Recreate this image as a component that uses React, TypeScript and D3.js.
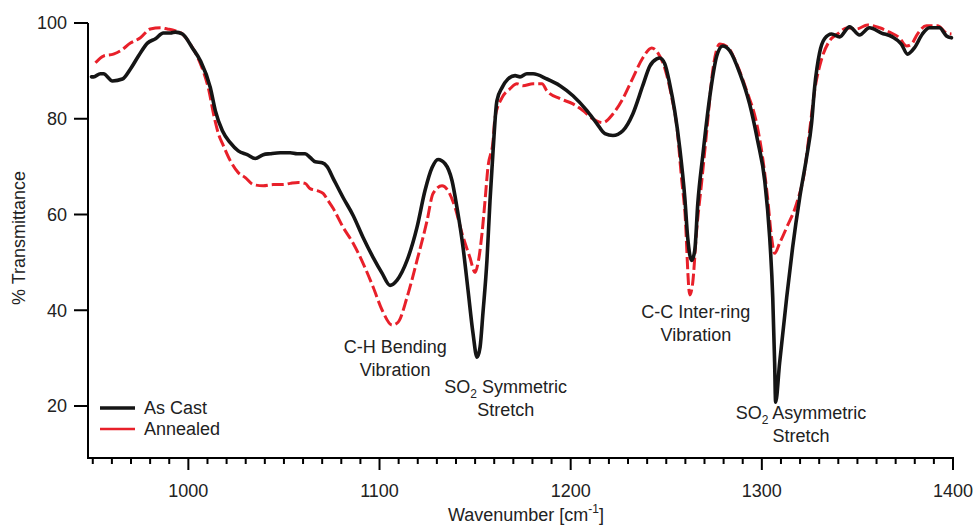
import React from "react";
import * as d3 from "d3";

const asCastWn = [949.3, 950.4, 954.0, 955.6, 960.3, 965.5, 969.7, 973.9, 978.6, 982.8, 986.9, 990.6, 993.2, 996.9, 1002.1, 1006.3, 1011.5, 1014.1, 1017.8, 1021.9, 1026.1, 1030.8, 1035.0, 1039.2, 1042.8, 1048.1, 1053.3, 1056.9, 1061.1, 1063.7, 1066.4, 1070.0, 1072.6, 1075.8, 1081.0, 1086.2, 1091.4, 1096.7, 1101.4, 1105.5, 1109.2, 1114.4, 1119.6, 1123.8, 1127.5, 1130.6, 1134.3, 1137.9, 1140.5, 1143.7, 1146.3, 1148.9, 1151.0, 1152.6, 1154.1, 1156.2, 1157.8, 1159.4, 1161.4, 1164.1, 1167.2, 1170.9, 1173.5, 1177.1, 1180.3, 1187.6, 1194.4, 1201.2, 1208.5, 1213.7, 1217.9, 1222.1, 1227.3, 1232.5, 1237.7, 1241.4, 1245.0, 1246.6, 1249.2, 1251.8, 1254.4, 1257.1, 1259.7, 1261.2, 1263.3, 1264.9, 1266.5, 1269.1, 1272.7, 1276.4, 1279.5, 1283.2, 1288.4, 1293.6, 1297.8, 1301.5, 1304.1, 1305.7, 1306.7, 1307.2, 1309.3, 1313.0, 1316.1, 1319.8, 1323.4, 1326.0, 1327.6, 1330.2, 1332.8, 1336.5, 1340.7, 1345.9, 1351.1, 1356.3, 1362.6, 1368.3, 1373.0, 1376.2, 1379.8, 1384.0, 1387.7, 1392.9, 1396.6, 1399.2];
const asCastT = [88.75, 88.75, 89.4, 89.4, 87.9, 88.3, 90.4, 93.1, 95.8, 96.7, 97.9, 97.9, 98.1, 97.7, 94.8, 92.1, 86.5, 81.7, 77.5, 75.0, 73.3, 72.5, 71.7, 72.5, 72.7, 72.9, 72.9, 72.7, 72.7, 71.9, 71.0, 70.8, 70.0, 67.5, 63.5, 59.8, 55.2, 51.0, 47.7, 45.2, 46.3, 50.4, 57.3, 65.0, 69.8, 71.5, 70.6, 67.1, 61.5, 53.1, 44.2, 35.2, 30.2, 32.3, 39.4, 50.4, 62.9, 73.3, 83.75, 86.5, 88.3, 89.0, 88.75, 89.4, 89.4, 88.3, 86.9, 84.8, 81.7, 79.0, 76.9, 76.5, 77.5, 81.0, 86.9, 91.0, 92.5, 92.7, 91.5, 87.3, 81.7, 73.75, 63.5, 55.2, 50.4, 52.5, 62.3, 72.3, 84.4, 93.1, 95.2, 94.2, 89.6, 83.1, 75.4, 67.1, 55.2, 42.7, 29.0, 20.8, 29.0, 42.7, 53.1, 63.5, 71.9, 79.0, 86.5, 93.75, 96.7, 97.7, 97.1, 99.2, 97.5, 99.0, 97.9, 97.1, 95.6, 93.5, 94.8, 97.7, 99.0, 99.0, 97.3, 96.9];

const annealedWn = [951.4, 955.6, 960.8, 964.5, 969.7, 974.9, 980.1, 985.4, 989.0, 992.2, 996.9, 1001.0, 1006.3, 1010.4, 1013.6, 1015.7, 1018.3, 1021.9, 1026.1, 1029.8, 1034.0, 1039.2, 1044.4, 1049.6, 1053.3, 1057.5, 1061.1, 1063.7, 1067.4, 1070.5, 1073.1, 1075.8, 1081.0, 1086.2, 1091.4, 1096.7, 1101.4, 1106.6, 1109.7, 1114.4, 1119.6, 1124.9, 1128.0, 1132.7, 1135.8, 1139.5, 1143.2, 1147.3, 1150.0, 1151.5, 1153.6, 1155.2, 1156.7, 1159.4, 1160.4, 1164.1, 1168.2, 1171.9, 1175.0, 1180.3, 1185.0, 1187.6, 1194.4, 1201.2, 1206.4, 1211.6, 1216.8, 1222.1, 1227.3, 1232.5, 1237.7, 1242.4, 1245.6, 1249.2, 1252.9, 1255.5, 1258.1, 1259.7, 1262.3, 1263.8, 1265.9, 1268.6, 1271.2, 1274.3, 1278.0, 1282.1, 1286.8, 1292.1, 1297.3, 1300.4, 1303.0, 1305.1, 1306.7, 1309.3, 1313.0, 1318.2, 1322.4, 1325.0, 1327.6, 1331.3, 1335.4, 1339.6, 1344.8, 1349.5, 1355.3, 1361.6, 1366.8, 1372.0, 1375.7, 1378.3, 1381.4, 1386.1, 1391.9, 1396.6, 1399.2];
const annealedT = [91.7, 93.1, 93.5, 94.2, 95.8, 96.9, 98.75, 99.0, 98.75, 98.5, 97.7, 95.6, 91.5, 86.5, 80.2, 76.9, 74.4, 71.25, 68.75, 67.7, 66.25, 66.0, 66.25, 66.25, 66.5, 66.7, 66.5, 65.4, 65.0, 64.4, 62.9, 61.25, 57.3, 54.0, 49.8, 44.8, 40.0, 36.9, 37.5, 42.7, 50.4, 58.75, 64.4, 66.0, 65.0, 61.5, 56.0, 51.0, 47.9, 49.8, 56.0, 62.9, 69.8, 75.4, 80.2, 84.4, 86.25, 87.3, 86.9, 87.3, 87.3, 85.8, 84.2, 83.1, 81.7, 80.0, 79.2, 81.0, 84.2, 88.5, 92.7, 94.8, 93.75, 90.6, 84.4, 78.5, 67.1, 60.8, 43.2, 45.6, 56.7, 67.1, 77.5, 90.0, 95.6, 95.0, 91.5, 85.8, 79.0, 71.9, 63.5, 55.2, 51.9, 54.0, 57.3, 62.3, 69.2, 77.5, 85.8, 92.5, 96.25, 97.7, 99.0, 98.75, 99.6, 99.0, 98.1, 96.9, 95.2, 95.6, 97.7, 99.4, 99.4, 97.9, 97.7];

const yTicks = [20, 40, 60, 80, 100];
const xMajorTicks = [1000, 1100, 1200, 1300, 1400];
const xMinorTicks = d3.range(950, 1401, 10);

const seriesNames = ["As Cast", "Annealed"];

const W = 975;
const H = 526;
const FONT = "'Liberation Sans', Arial, Helvetica, sans-serif";

export default function App() {
  const x = d3.scaleLinear().domain([947.5, 1400]).range([88, 953]);
  const y = d3.scaleLinear().domain([20, 100]).range([406, 23]);
  const yBottom = 458;

  const line = d3
    .line<[number, number]>()
    .x((d) => x(d[0]))
    .y((d) => y(d[1]))
    .curve(d3.curveMonotoneX);

  const castData: [number, number][] = asCastWn.map((w, i) => [w, asCastT[i]]);
  const annData: [number, number][] = annealedWn.map((w, i) => [w, annealedT[i]]);

  const black = "#151515";
  const red = "#e8202a";

  const ann = [
    { lines: [["C-H Bending"], ["Vibration"]], wn: 1108.2, t: 31.0 },
    { lines: [["SO", "2", " Symmetric"], ["Stretch"]], wn: 1166, t: 22.7 },
    { lines: [["C-C Inter-ring"], ["Vibration"]], wn: 1265.5, t: 38.4 },
    { lines: [["SO", "2", " Asymmetric"], ["Stretch"]], wn: 1320.5, t: 17.2 },
  ];

  return (
    <svg
      width={W}
      height={H}
      style={{ position: "absolute", left: 0, top: 0, background: "#fff" }}
      fontFamily={FONT}
    >
      <rect x={0} y={0} width={W} height={H} fill="#fff" />
      {/* curves */}
      <path d={line(annData) || ""} fill="none" stroke={red} strokeWidth={3} strokeDasharray="12 4" strokeLinejoin="round" />
      <path d={line(castData) || ""} fill="none" stroke={black} strokeWidth={3.6} strokeLinejoin="round" strokeLinecap="round" />

      {/* y axis */}
      <line x1={88} x2={88} y1={y(100)} y2={yBottom + 1} stroke="#000" strokeWidth={2} />
      {yTicks.map((t) => (
        <g key={t}>
          <line x1={74} x2={88} y1={y(t)} y2={y(t)} stroke="#000" strokeWidth={2} />
          <text x={67} y={y(t)} dy="0.36em" textAnchor="end" fontSize={18} fill="#222">
            {t}
          </text>
        </g>
      ))}
      <text
        transform={`translate(25,${238}) rotate(-90)`}
        textAnchor="middle"
        fontSize={18}
        fill="#222"
      >
        % Transmittance
      </text>

      {/* x axis */}
      <line x1={87} x2={x(1400) + 1} y1={yBottom} y2={yBottom} stroke="#000" strokeWidth={2} />
      {xMinorTicks.map((t) => (
        <line key={"m" + t} x1={x(t)} x2={x(t)} y1={yBottom} y2={yBottom + (t % 100 === 0 ? 12 : 6)} stroke="#000" strokeWidth={2} />
      ))}
      {xMajorTicks.map((t) => (
        <text key={t} x={x(t)} y={497} textAnchor="middle" fontSize={18} fill="#222">
          {t}
        </text>
      ))}
      <text x={526} y={521} textAnchor="middle" fontSize={18} fill="#222">
        Wavenumber [cm
        <tspan fontSize={12} dy={-8}>-1</tspan>
        <tspan dy={8}>]</tspan>
      </text>

      {/* annotations */}
      {ann.map((a, i) => (
        <text key={i} textAnchor="middle" fontSize={18} fill="#222">
          {a.lines.map((ln, j) => (
            <tspan key={j} x={x(a.wn)} y={y(a.t) + j * 23}>
              {ln.length === 1 ? (
                ln[0]
              ) : (
                <>
                  {ln[0]}
                  <tspan fontSize={12} dy={5}>{ln[1]}</tspan>
                  <tspan dy={-5}>{ln[2]}</tspan>
                </>
              )}
            </tspan>
          ))}
        </text>
      ))}

      {/* legend */}
      <line x1={100} x2={135} y1={408} y2={408} stroke={black} strokeWidth={3.6} />
      <text x={144} y={414} fontSize={18} fill="#222">{seriesNames[0]}</text>
      <line x1={100} x2={135} y1={429} y2={429} stroke={red} strokeWidth={2.6} />
      <text x={144} y={435} fontSize={18} fill="#222">{seriesNames[1]}</text>
    </svg>
  );
}
